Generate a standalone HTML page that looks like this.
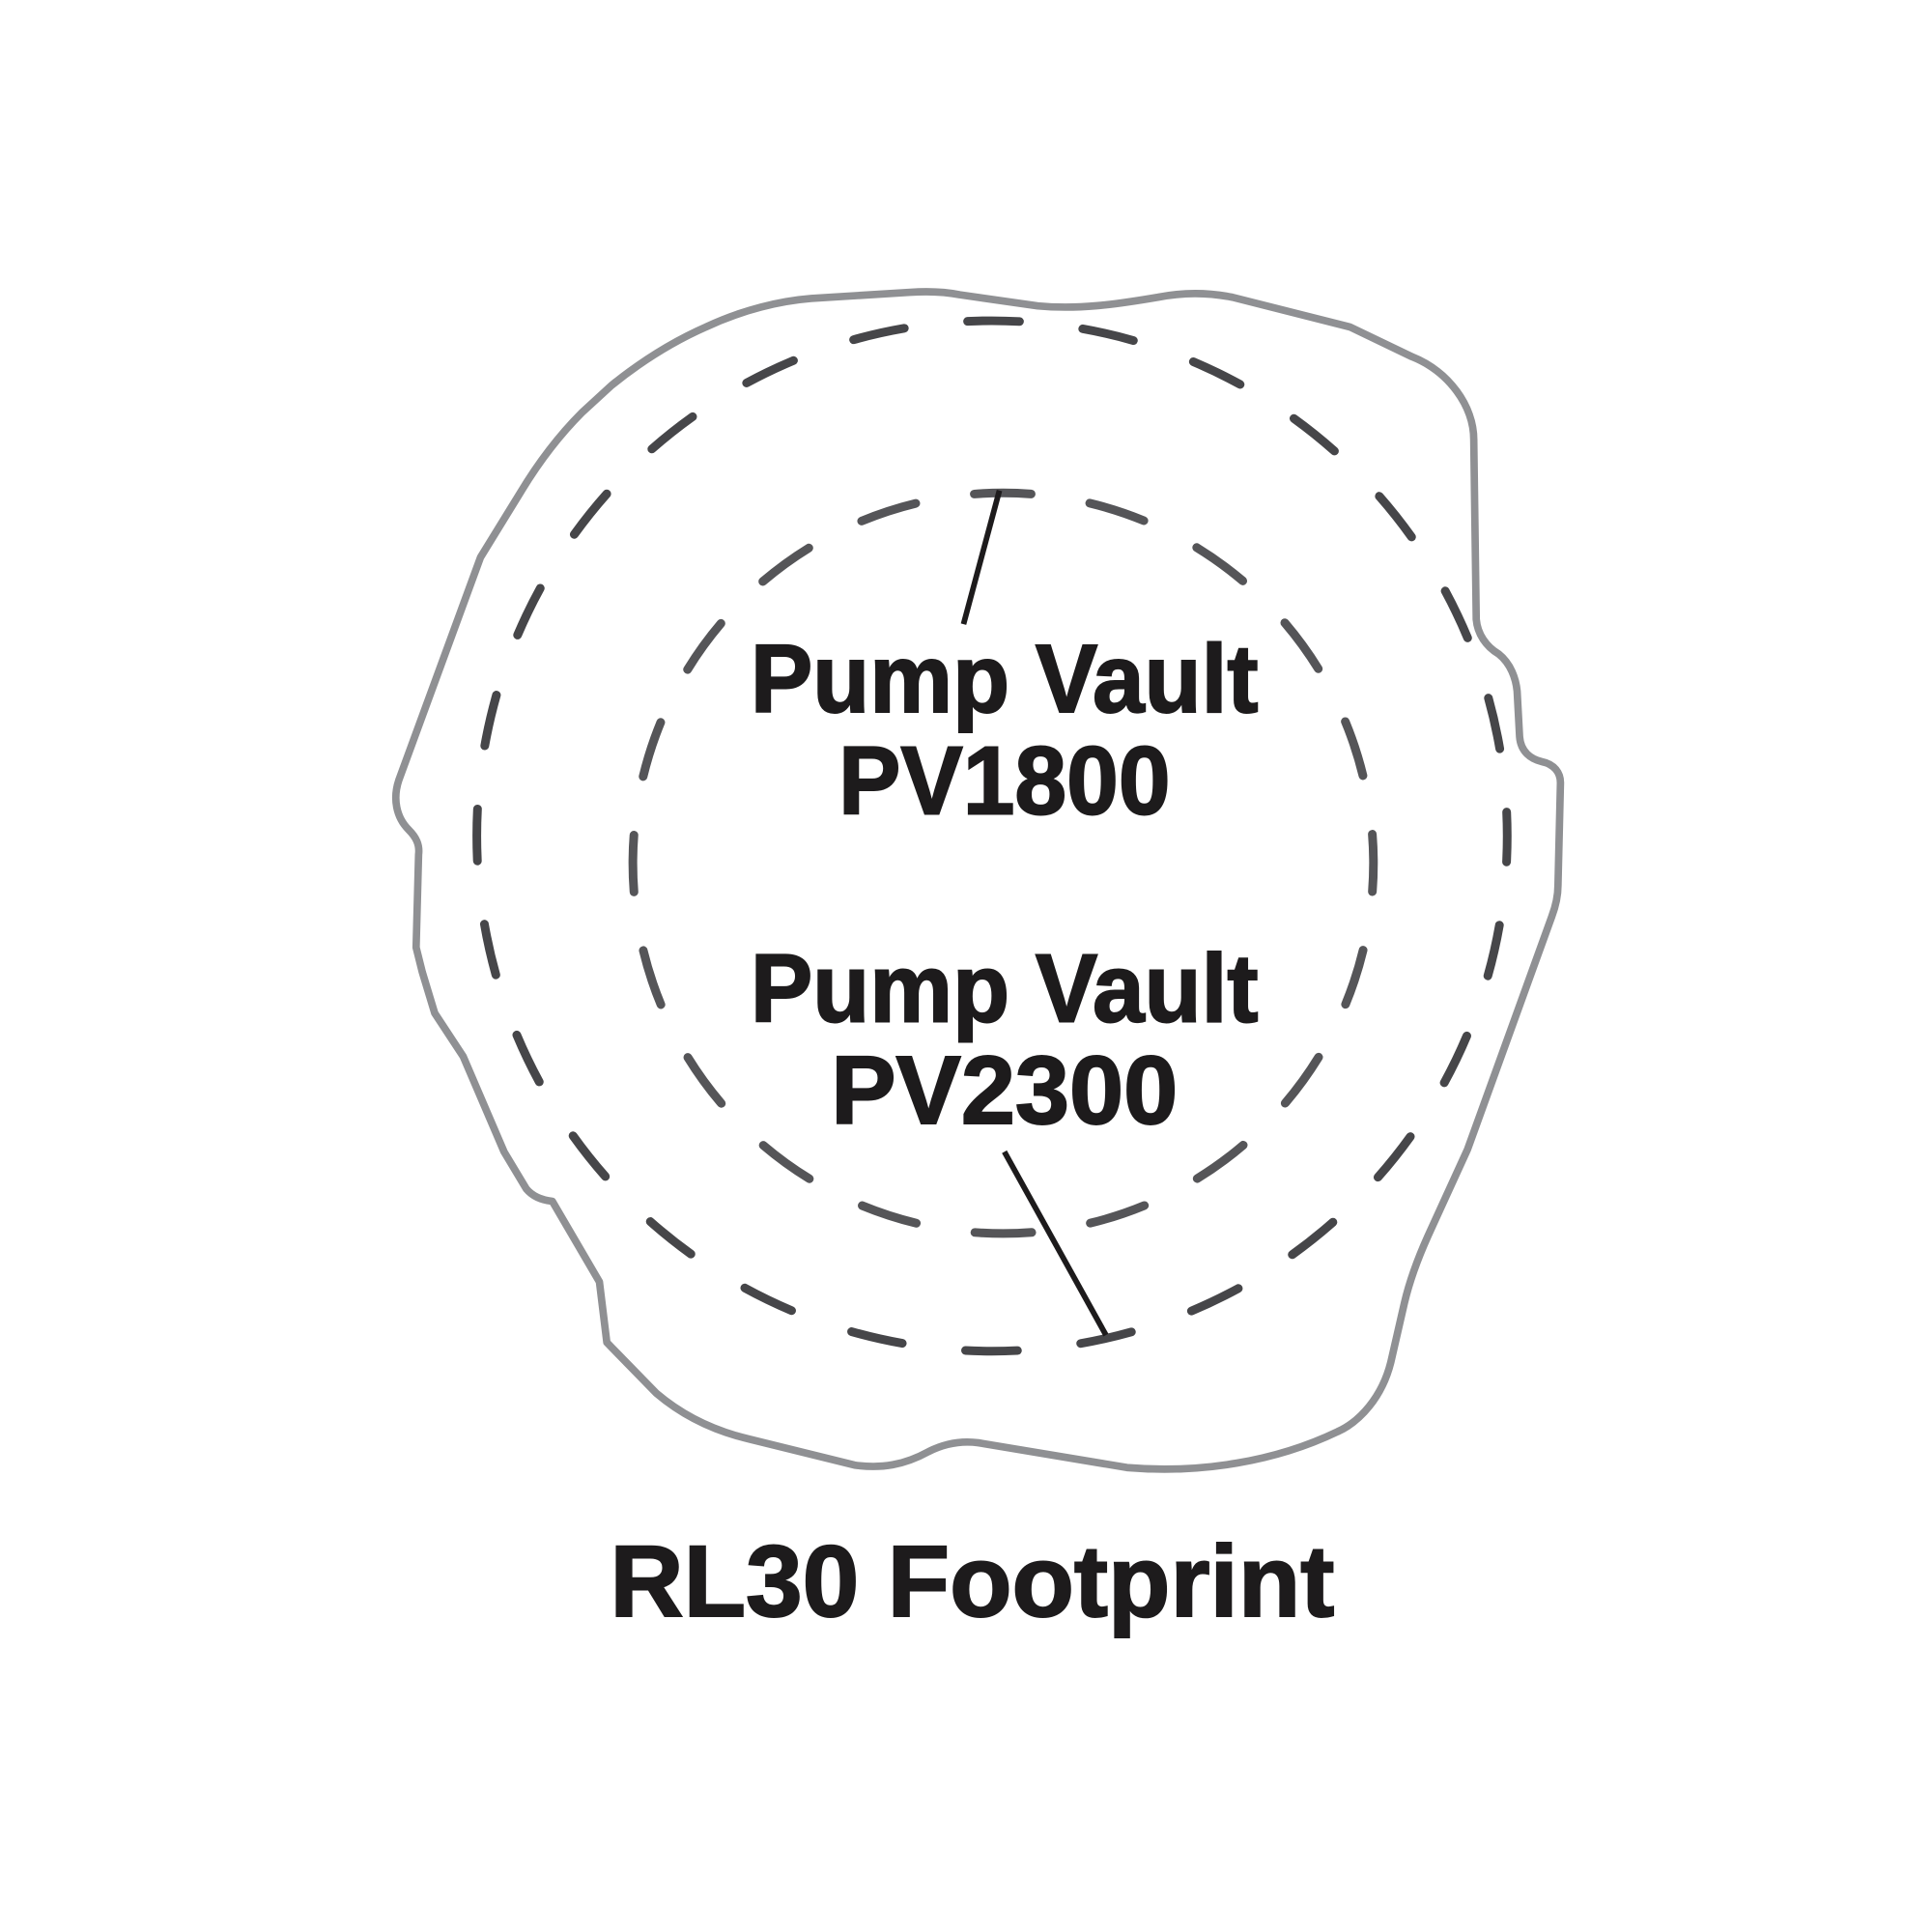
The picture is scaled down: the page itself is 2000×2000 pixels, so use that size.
<!DOCTYPE html>
<html><head><meta charset="utf-8"><style>
html,body{margin:0;padding:0;background:#fff;}
svg{display:block;}
text{font-family:"Liberation Sans",Arial,sans-serif;font-weight:bold;fill:#1d1b1c;}
</style></head><body>
<svg width="2000" height="2000" viewBox="0 0 1560 1560" xmlns="http://www.w3.org/2000/svg">
<path d="M494 311 C520 290 545 275 570 264 C600 250 630 243 655 241 L735 236 C750 235 765 236 775 238 L838 247 C870 250 900 246 935 240 C955 236 975 236 995 240 L1090 264 L1140 288 C1170 300 1190 328 1190 355 L1192 500 C1193 512 1200 522 1210 528 C1220 536 1224 548 1225 558 L1227 595 C1228 607 1236 613 1245 615 C1255 617 1260 624 1260 632 L1258 715 C1258 724 1256 732 1253 740 L1185 928 L1153 998 C1144 1018 1138 1035 1134 1052 L1123 1100 C1116 1128 1098 1148 1080 1156 C1030 1180 970 1190 910 1185 L790 1165 C775 1163 762 1166 750 1172 C730 1183 712 1186 690 1183 L605 1162 C575 1155 550 1142 530 1125 L490 1084 L484 1035 L446 970 C437 969 430 966 425 960 L407 930 L374 853 L351 818 L341 785 L336 765 L338 690 C339 682 336 676 330 670 C320 660 317 645 322 630 L388 450 L420 398 C438 368 455 348 470 333 Z" fill="none" stroke="#8f9093" stroke-width="6" stroke-linejoin="round"/>
<circle cx="801" cy="675" r="416" fill="none" stroke="#464649" stroke-width="7" stroke-linecap="round" stroke-dasharray="42 51.4" stroke-dashoffset="21"/>
<circle cx="810" cy="697" r="299" fill="none" stroke="#555558" stroke-width="7" stroke-linecap="round" stroke-dasharray="46 47.9" stroke-dashoffset="23"/>
<line x1="778" y1="504" x2="807" y2="396" stroke="#1d1b1c" stroke-width="4.5"/>
<line x1="811" y1="930" x2="893" y2="1078" stroke="#1d1b1c" stroke-width="4.5"/>
<text x="811" y="575" font-size="78" text-anchor="middle" textLength="410" lengthAdjust="spacingAndGlyphs" stroke="#1d1b1c" stroke-width="1.5">Pump Vault</text>
<text x="811" y="657" font-size="78" text-anchor="middle" textLength="268" lengthAdjust="spacingAndGlyphs" stroke="#1d1b1c" stroke-width="1.5">PV1800</text>
<text x="811" y="825" font-size="78" text-anchor="middle" textLength="410" lengthAdjust="spacingAndGlyphs" stroke="#1d1b1c" stroke-width="1.5">Pump Vault</text>
<text x="811" y="907" font-size="78" text-anchor="middle" textLength="280" lengthAdjust="spacingAndGlyphs" stroke="#1d1b1c" stroke-width="1.5">PV2300</text>
<text x="785" y="1305" font-size="82" text-anchor="middle" textLength="585" lengthAdjust="spacingAndGlyphs" stroke="#1d1b1c" stroke-width="1.5">RL30 Footprint</text>
</svg>
</body></html>
